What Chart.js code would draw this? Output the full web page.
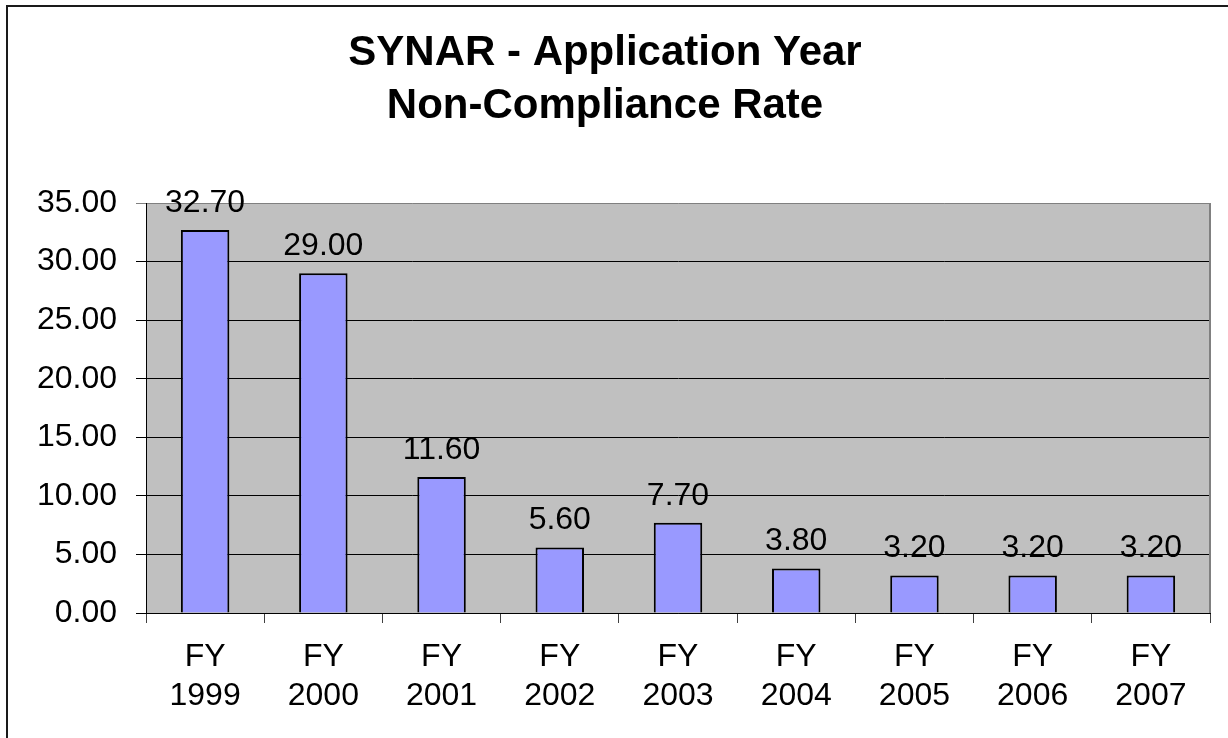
<!DOCTYPE html>
<html>
<head>
<meta charset="utf-8">
<script src="https://cdn.jsdelivr.net/npm/chart.js@4/dist/chart.umd.min.js"></script>
<style>
  html, body { margin: 0; padding: 0; background: #ffffff; overflow: hidden; }
  #wrap { position: relative; width: 1228px; height: 738px; }
  #frame { position: absolute; left: 6px; top: 5px; width: 1400px; height: 900px;
           border-top: 2px solid #1a1a1a; border-left: 2px solid #1a1a1a; }
  #c { position: absolute; left: 0; top: 0; }
</style>
</head>
<body>
<div id="wrap">
  <div id="frame"></div>
  <canvas id="c" width="1228" height="738"></canvas>
</div>
<script>
const titleLines = ['SYNAR - Application Year', 'Non-Compliance Rate'];
const categories = [['FY', '1999'], ['FY', '2000'], ['FY', '2001'], ['FY', '2002'], ['FY', '2003'],
                    ['FY', '2004'], ['FY', '2005'], ['FY', '2006'], ['FY', '2007']];
const rates = [32.7, 29.0, 11.6, 5.6, 7.7, 3.8, 3.2, 3.2, 3.2];
const yTickValues = [0, 5, 10, 15, 20, 25, 30, 35];

const FONT = "'Liberation Sans', Arial, sans-serif";

const plotBg = {
  id: 'plotBg',
  beforeDraw(chart) {
    const a = chart.chartArea, ctx = chart.ctx;
    ctx.save();
    ctx.fillStyle = '#C0C0C0';
    ctx.fillRect(a.left, a.top, a.right - a.left, a.bottom - a.top);
    ctx.restore();
  },
  afterDatasetsDraw(chart) {
    const a = chart.chartArea, ctx = chart.ctx;
    ctx.save();
    ctx.strokeStyle = '#808080';
    ctx.lineWidth = 2;
    ctx.beginPath();
    ctx.moveTo(a.right, a.top);
    ctx.lineTo(a.right, a.bottom);
    ctx.stroke();
    ctx.restore();
  }
};

const valueLabels = {
  id: 'valueLabels',
  afterDatasetsDraw(chart) {
    const ctx = chart.ctx;
    const meta = chart.getDatasetMeta(0);
    const data = chart.data.datasets[0].data;
    ctx.save();
    ctx.font = '32px ' + FONT;
    ctx.fillStyle = '#000000';
    ctx.textAlign = 'center';
    ctx.textBaseline = 'middle';
    meta.data.forEach((el, i) => {
      ctx.fillText(Number(data[i]).toFixed(2), el.x, el.y - 27);
    });
    ctx.restore();
  }
};

new Chart(document.getElementById('c'), {
  type: 'bar',
  data: {
    labels: categories,
    datasets: [{
      data: rates,
      backgroundColor: '#9999FF',
      borderColor: '#000000',
      borderWidth: 2,
      borderSkipped: 'bottom',
      barPercentage: 0.41,
      categoryPercentage: 1.0
    }]
  },
  options: {
    responsive: false,
    animation: false,
    devicePixelRatio: 1,
    layout: { padding: { left: 0, right: 18, top: 0, bottom: 0 } },
    plugins: {
      legend: { display: false },
      tooltip: { enabled: false },
      title: {
        display: true,
        text: titleLines,
        color: '#000000',
        font: { family: FONT, size: 42, weight: 'bold', lineHeight: 53 / 42 },
        padding: { top: 27, bottom: 70 }
      }
    },
    scales: {
      x: {
        grid: {
          drawOnChartArea: false,
          drawTicks: true,
          tickLength: 10,
          color: '#404040',
          lineWidth: 1
        },
        border: { display: true, color: '#000000', width: 1 },
        ticks: {
          color: '#000000',
          font: { family: FONT, size: 32, lineHeight: 39 / 32 },
          padding: 15,
          maxRotation: 0,
          autoSkip: false
        },
        afterFit(scale) { scale.height = 738 - 613; }
      },
      y: {
        min: 0,
        max: 35,
        afterBuildTicks(scale) { scale.ticks = yTickValues.map(v => ({ value: v })); },
        grid: {
          drawTicks: true,
          tickLength: 10,
          color: (ctx) => (ctx.tick && ctx.tick.value === 35 ? '#808080' : '#000000'),
          lineWidth: 1
        },
        border: { display: true, color: '#000000', width: 1 },
        ticks: {
          color: '#000000',
          font: { family: FONT, size: 32 },
          padding: 19,
          callback: (v) => Number(v).toFixed(2)
        },
        afterFit(scale) { scale.width = 146; }
      }
    }
  },
  plugins: [plotBg, valueLabels]
});
</script>
</body>
</html>
